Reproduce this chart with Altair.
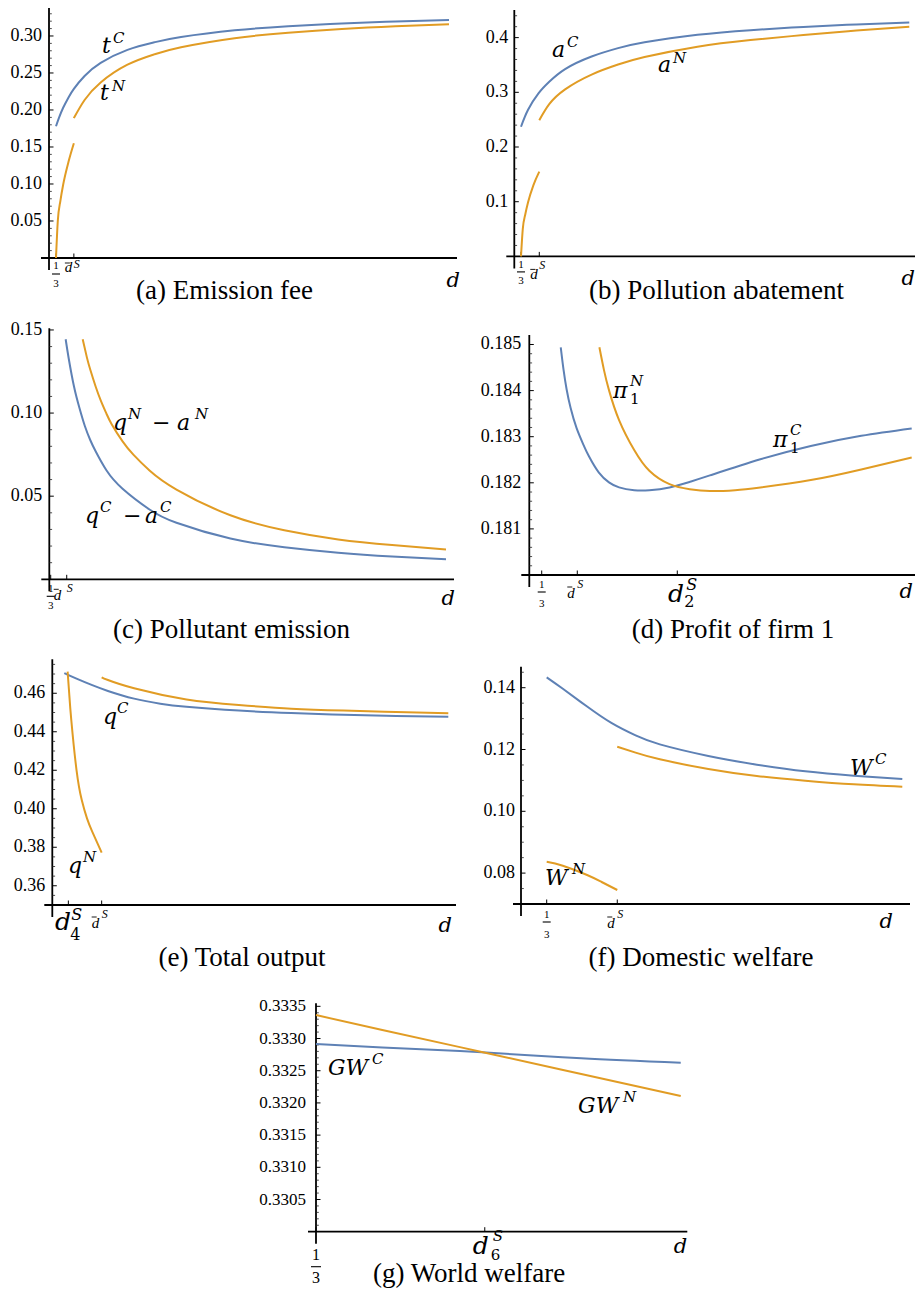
import altair as alt
import pandas as pd

# ======================= data =======================
THIRD = 1 / 3

# (a) Emission fee
a_tC_d = [THIRD, 0.36, 0.4, 0.45, 0.5, 0.6, 0.75, 1.0, 1.25, 1.5, 2.0, 2.5, 3.0, 3.5, 4.0]
a_tC_v = [0.178, 0.189, 0.203, 0.217, 0.2286, 0.2459, 0.2636, 0.2812, 0.2914, 0.2985, 0.3076, 0.3131, 0.3168, 0.3195, 0.3216]
a_tN_lo_d = [THIRD, 0.35, 0.375, 0.4, 0.45, 0.5]
a_tN_lo_v = [0.0, 0.05, 0.078, 0.099, 0.13, 0.155]
a_tN_hi_d = [0.5, 0.6, 0.75, 1.0, 1.25, 1.5, 2.0, 2.5, 3.0, 3.5, 4.0]
a_tN_hi_v = [0.189, 0.2135, 0.2372, 0.2612, 0.2752, 0.2848, 0.2970, 0.3044, 0.3095, 0.3132, 0.316]

# (b) Pollution abatement
b_aC_d = [THIRD, 0.4, 0.5, 0.6, 0.75, 1.0, 1.25, 1.5, 2.0, 2.5, 3.0, 3.5, 4.0]
b_aC_v = [0.237, 0.268, 0.2985, 0.3193, 0.3425, 0.3655, 0.3808, 0.3915, 0.4052, 0.4137, 0.4196, 0.4241, 0.4278]
b_aN_lo_d = [THIRD, 0.35, 0.375, 0.4, 0.45, 0.506]
b_aN_lo_v = [0.0, 0.05, 0.078, 0.099, 0.13, 0.155]
b_aN_hi_d = [0.506, 0.6, 0.75, 1.0, 1.25, 1.5, 2.0, 2.5, 3.0, 3.5, 4.0]
b_aN_hi_v = [0.249, 0.2785, 0.3055, 0.3325, 0.3508, 0.3645, 0.3835, 0.3955, 0.4047, 0.4128, 0.420]

# (c) Pollutant emission
c_C_d = [0.472, 0.5, 0.55, 0.6, 0.65, 0.7, 0.75, 0.85, 1.0, 1.25, 1.5, 2.0, 2.5, 3.0, 3.5, 4.0]
c_C_v = [0.1444, 0.1330, 0.1158, 0.1030, 0.0922, 0.0838, 0.0770, 0.0656, 0.0545, 0.0420, 0.0340,
         0.0245, 0.0193, 0.0160, 0.0137, 0.0120]
c_N_d = [0.63, 0.67, 0.7, 0.75, 0.8, 0.85, 0.9, 1.0, 1.1, 1.25, 1.5, 2.0, 2.5, 3.0, 3.5, 4.0]
c_N_v = [0.1444, 0.1332, 0.1262, 0.1160, 0.1072, 0.0997, 0.0932, 0.0830, 0.0750, 0.0655, 0.0540,
         0.0385, 0.0295, 0.0240, 0.0206, 0.0180]

# (d) Profit of firm 1
d_C_d = [0.522, 0.55, 0.58, 0.62, 0.68, 0.75, 0.8, 0.9, 1.0, 1.1, 1.25, 1.4, 1.6, 1.8, 2.0, 2.5, 3.0, 3.5, 4.0]
d_C_v = [0.18494, 0.18445, 0.18403, 0.18362, 0.18318, 0.18281, 0.18258, 0.18222, 0.18201, 0.18190,
         0.18184, 0.18184, 0.18190, 0.18202, 0.18216, 0.18251, 0.18280, 0.18302, 0.18318]
d_N_d = [0.905, 0.95, 1.0, 1.1, 1.25, 1.4, 1.6, 1.8, 2.0, 2.25, 2.5, 3.0, 3.5, 4.0]
d_N_v = [0.18494, 0.18445, 0.18401, 0.18336, 0.18271, 0.18226, 0.18197, 0.18186, 0.18182, 0.18184,
         0.18190, 0.18206, 0.18229, 0.18255]

# (e) Total output
e_C_d = [THIRD, 0.45, 0.6, 0.75, 1.0, 1.25, 1.5, 2.0, 2.5, 3.0, 3.5, 4.0]
e_C_v = [0.4705, 0.4676, 0.4642, 0.4612, 0.4572, 0.4546, 0.4530, 0.4510, 0.4497, 0.4488, 0.4482, 0.4478]
e_N_lo_d = [0.365, 0.38, 0.4, 0.45, 0.5, 0.55, 0.6, 0.69]
e_N_lo_v = [0.4712, 0.4600, 0.4461, 0.4201, 0.4045, 0.3950, 0.3881, 0.3772]
e_N_hi_d = [0.69, 0.75, 1.0, 1.5, 2.0, 2.5, 3.0, 3.5, 4.0]
e_N_hi_v = [0.4683, 0.4669, 0.4626, 0.4568, 0.4539, 0.4520, 0.4510, 0.4503, 0.4496]

# (f) Domestic welfare
f_C_d = [THIRD, 0.5, 0.75, 1.0, 1.25, 1.5, 2.0, 2.5, 3.0, 3.5, 4.0]
f_C_v = [0.14335, 0.13965, 0.13390, 0.12860, 0.12455, 0.12165, 0.11790, 0.11509, 0.11293, 0.11153, 0.11045]
f_N_lo_d = [THIRD, 0.5, 0.75, 0.9, 1.061]
f_N_lo_v = [0.0837, 0.0824, 0.07939, 0.07712, 0.07453]
f_N_hi_d = [1.061, 1.25, 1.5, 2.0, 2.5, 3.0, 3.5, 4.0]
f_N_hi_v = [0.12092, 0.11898, 0.11682, 0.11369, 0.11142, 0.10991, 0.10873, 0.10797]

# (g) World welfare
g_C_d = [THIRD, 1.0, 2.0, 3.0, 4.0]
g_C_v = [0.332914, 0.332862, 0.332786, 0.332692, 0.332624]
g_N_d = [THIRD, 1.0, 2.0, 3.0, 4.0]
g_N_v = [0.333364, 0.333131, 0.332792, 0.332448, 0.332107]

# y tick values and labels
a_yt = [0.05, 0.10, 0.15, 0.20, 0.25, 0.30]
a_yl = ["0.05", "0.10", "0.15", "0.20", "0.25", "0.30"]
b_yt = [0.1, 0.2, 0.3, 0.4]
b_yl = ["0.1", "0.2", "0.3", "0.4"]
c_yt = [0.05, 0.10, 0.15]
c_yl = ["0.05", "0.10", "0.15"]
d_yt = [0.181, 0.182, 0.183, 0.184, 0.185]
d_yl = ["0.181", "0.182", "0.183", "0.184", "0.185"]
e_yt = [0.36, 0.38, 0.40, 0.42, 0.44, 0.46]
e_yl = ["0.36", "0.38", "0.40", "0.42", "0.44", "0.46"]
f_yt = [0.08, 0.10, 0.12, 0.14]
f_yl = ["0.08", "0.10", "0.12", "0.14"]
g_yt = [0.3305, 0.3310, 0.3315, 0.3320, 0.3325, 0.3330, 0.3335]
g_yl = ["0.3305", "0.3310", "0.3315", "0.3320", "0.3325", "0.3330", "0.3335"]

# x tick positions (d)
a_dbar, b_dbar, c_dbar, d_dbar, e_dbar, f_dbar = 0.5, 0.506, 0.482, 0.686, 0.69, 1.061
d_d2, e_d4, g_d6 = 1.677, 0.372, 2.03

captions = ["(a) Emission fee", "(b) Pollution abatement", "(c) Pollutant emission",
            "(d) Profit of firm 1", "(e) Total output", "(f) Domestic welfare", "(g) World welfare"]

# ======================= layout / style =======================
SERIF = "Liberation Serif, Times New Roman, Tinos, serif"
MATH = "DejaVu Serif"
BLUE = "#5E81B5"
ORANGE = "#E19C24"

PA = dict(xd=[0.268, 4.0746], xr=[41, 449], yd=[0.0, 0.3378], yr=[250, 0])
PB = dict(xd=[0.2701, 4.07], xr=[506.3, 908.7], yd=[0.0, 0.4505], yr=[248.4, 2])
PC = dict(xd=[0.3203, 4.0742], xr=[41.3, 446], yd=[0.0, 0.151], yr=[571.3, 320.3])
PD = dict(xd=[0.2104, 4.0624], xr=[521.3, 910], yd=[0.18, 0.185206], yr=[567, 327])
PE = dict(xd=[0.2187, 4.0735], xr=[44.3, 448], yd=[0.35, 0.47764], yr=[897, 651.3])
PF = dict(xd=[0.0684, 4.0794], xr=[513, 902], yd=[0.07, 0.1468], yr=[896, 658.7])
PG = dict(xd=[THIRD, 4.066], xr=[308, 679.3], yd=[0.33, 0.333547], yr=[1223.7, 995.3])

layers = []


def xs(P, f="d"):
    return alt.X(f"{f}:Q", scale=alt.Scale(domain=P["xd"], range=P["xr"], nice=False, zero=False), axis=None)


def ys(P, f="v"):
    return alt.Y(f"{f}:Q", scale=alt.Scale(domain=P["yd"], range=P["yr"], nice=False, zero=False), axis=None)


def curve(P, ds, vs, color, interp="natural"):
    df = pd.DataFrame({"d": ds, "v": vs})
    layers.append(alt.Chart(df).mark_line(color=color, strokeWidth=2, interpolate=interp)
                  .encode(x=xs(P), y=ys(P)))


def text(P, d, v, s, size, dx=0, dy=0, font=SERIF, italic=False, align="left", baseline="alphabetic"):
    df = pd.DataFrame({"d": [d], "v": [v], "t": [s]})
    kw = dict(font=font, fontSize=size, dx=dx, dy=dy, align=align, baseline=baseline, color="black")
    if italic:
        kw["fontStyle"] = "italic"
    layers.append(alt.Chart(df).mark_text(**kw).encode(x=xs(P), y=ys(P), text="t:N"))


def hbar(P, d, v, x0off, x1off, yoff, width=1.0):
    df = pd.DataFrame({"d": [d], "d2": [d], "v": [v]})
    layers.append(alt.Chart(df).mark_rule(color="black", strokeWidth=width, xOffset=x0off,
                                          x2Offset=x1off, yOffset=yoff)
                  .encode(x=xs(P), x2="d2:Q", y=ys(P)))


def axes(P, yt, yl, minor, xt, lab_dx=-7, lab_size=18):
    d0, d1 = P["xd"]
    v0, v1 = P["yd"]
    df = pd.DataFrame({"d": [d0], "d2": [d1], "v": [v0]})
    layers.append(alt.Chart(df).mark_rule(color="black", strokeWidth=1.8, xOffset=-8)
                  .encode(x=xs(P), x2="d2:Q", y=ys(P)))
    df = pd.DataFrame({"d": [d0], "v": [v0], "v2": [v1]})
    layers.append(alt.Chart(df).mark_rule(color="black", strokeWidth=1.8, yOffset=12)
                  .encode(x=xs(P), y=ys(P), y2="v2:Q"))
    df = pd.DataFrame({"d": [d0] * len(yt), "d2": [d0] * len(yt), "v": yt, "t": yl})
    layers.append(alt.Chart(df).mark_rule(color="black", strokeWidth=1, x2Offset=4.5)
                  .encode(x=xs(P), x2="d2:Q", y=ys(P)))
    layers.append(alt.Chart(df).mark_text(font=SERIF, fontSize=lab_size, align="right",
                                          baseline="middle", dx=lab_dx, color="black")
                  .encode(x=xs(P), y=ys(P), text="t:N"))
    start, stop, step = minor
    mv = []
    k = 0
    while start + k * step <= stop + 1e-12:
        val = round(start + k * step, 7)
        if all(abs(val - t) > step / 4 for t in yt):
            mv.append(val)
        k += 1
    df = pd.DataFrame({"d": [d0] * len(mv), "d2": [d0] * len(mv), "v": mv})
    layers.append(alt.Chart(df).mark_rule(color="#222", strokeWidth=0.8, x2Offset=2.8)
                  .encode(x=xs(P), x2="d2:Q", y=ys(P)))
    df = pd.DataFrame({"d": xt, "v": [v0] * len(xt), "v2": [v0] * len(xt)})
    layers.append(alt.Chart(df).mark_rule(color="black", strokeWidth=1, y2Offset=-4.5)
                  .encode(x=xs(P), y=ys(P), y2="v2:Q"))


def third(P, size, dy1, dybar, dy3, half):
    v0 = P["yd"][0]
    text(P, THIRD, v0, "1", size, dy=dy1, align="center")
    hbar(P, THIRD, v0, -half, half, dybar, width=1.1)
    text(P, THIRD, v0, "3", size, dy=dy3, align="center")


def dbar(P, d, dxd, dyd, dybar, dxs, dys, size=15):
    v0 = P["yd"][0]
    text(P, d, v0, "d", size, dx=dxd, dy=dyd, italic=True)
    hbar(P, d, v0, dxd, dxd + 5, dybar, width=0.9)
    text(P, d, v0, "S", 12, dx=dxs, dy=dys, italic=True)


def dsub(P, d, sub, dxd, dyd, dxs, dys, dxb, dyb, size=25, small=16):
    v0 = P["yd"][0]
    text(P, d, v0, "d", size, dx=dxd, dy=dyd, font=MATH, italic=True)
    text(P, d, v0, "S", small, dx=dxs, dy=dys, font=MATH, italic=True)
    text(P, d, v0, sub, small, dx=dxb, dy=dyb, font=MATH)


def dlabel(P, dx, dy):
    text(P, P["xd"][1], P["yd"][0], "d", 21, dx=dx, dy=dy, font=MATH, italic=True, align="right")


def caption(P, d, dy, s):
    text(P, d, P["yd"][0], s, 27, dy=dy, align="center")


def mlabel(P, d, v, pieces):
    for s, dx, dy, size, italic in pieces:
        text(P, d, v, s, size, dx=dx, dy=dy, font=MATH, italic=italic)


B, SM = 22, 15

# ---------- (a) ----------
axes(PA, a_yt, a_yl, (0.01, 0.33, 0.01), [THIRD, a_dbar])
curve(PA, a_tC_d, a_tC_v, BLUE)
curve(PA, a_tN_lo_d, a_tN_lo_v, ORANGE, "monotone")
curve(PA, a_tN_hi_d, a_tN_hi_v, ORANGE)
third(PA, 11, 11, 16, 29, 4)
dbar(PA, a_dbar, -9, 14, 5, 0, 10)
dlabel(PA, 3, 29)
caption(PA, 1.906, 41, captions[0])
mlabel(PA, 0.762, 0.277, [("t", 0, 0, B, True), ("C", 11, -10, SM, True)])
mlabel(PA, 0.744, 0.2135, [("t", 0, 0, B, True), ("N", 12, -9, SM, True)])

# ---------- (b) ----------
axes(PB, b_yt, b_yl, (0.02, 0.44, 0.02), [THIRD, b_dbar], lab_dx=-6)
curve(PB, b_aC_d, b_aC_v, BLUE)
curve(PB, b_aN_lo_d, b_aN_lo_v, ORANGE, "monotone")
curve(PB, b_aN_hi_d, b_aN_hi_v, ORANGE)
third(PB, 11, 12, 15.5, 28, 4)
dbar(PB, b_dbar, -9, 23, 13, 0, 13)
dlabel(PB, -1.7, 28.6)
caption(PB, 2.179, 42.6, captions[1])
mlabel(PB, 0.626, 0.3645, [("a", 0, 0, B, True), ("C", 15, -10, SM, True)])
mlabel(PB, 1.627, 0.337, [("a", 0, 0, B, True), ("N", 15, -9, SM, True)])

# ---------- (c) ----------
axes(PC, c_yt, c_yl, (0.01, 0.15, 0.01), [THIRD, c_dbar])
curve(PC, c_C_d, c_C_v, BLUE)
curve(PC, c_N_d, c_N_v, ORANGE)
third(PC, 11, 13, 17, 30, 4)
dbar(PC, c_dbar, -13, 21, 10, 0, 13)
dlabel(PC, 1, 25.7)
caption(PC, 2.01, 58.7, captions[2])
mlabel(PC, 0.911, 0.0898, [("q", 0, 0, B, True), ("N", 15, -11, SM, True), ("\u2212", 39, 0, B, False),
                           ("a", 64, 0, B, True), ("N", 82, -11, SM, True)])
mlabel(PC, 0.652, 0.0337, [("q", 0, 0, B, True), ("C", 15, -11, SM, True), ("\u2212", 38, 0, B, False),
                           ("a", 60, 0, B, True), ("C", 75, -11, SM, True)])

# ---------- (d) ----------
axes(PD, d_yt, d_yl, (0.1802, 0.185, 0.0002), [THIRD, d_dbar, d_d2], lab_dx=-8)
curve(PD, d_C_d, d_C_v, BLUE)
curve(PD, d_N_d, d_N_v, ORANGE)
third(PD, 11, 13, 17, 32, 4)
dbar(PD, d_dbar, -10, 23, 12, 0, 13)
dsub(PD, d_d2, "2", -9.3, 27, 9, 15, 7, 32)
dlabel(PD, -5, 23)
caption(PD, 2.229, 63, captions[3])
mlabel(PD, 1.04, 0.18384, [("\u03c0", 0, 0, B, True), ("N", 17, -12, SM, True), ("1", 17, 6, SM, False)])
mlabel(PD, 2.626, 0.182777, [("\u03c0", 0, 0, B, True), ("C", 17, -12, SM, True), ("1", 17, 6, SM, False)])

# ---------- (e) ----------
axes(PE, e_yt, e_yl, (0.355, 0.475, 0.005), [e_d4, e_dbar])
curve(PE, e_C_d, e_C_v, BLUE)
curve(PE, e_N_lo_d, e_N_lo_v, ORANGE)
curve(PE, e_N_hi_d, e_N_hi_v, ORANGE)
dsub(PE, e_d4, "4", -13.3, 25, 3, 15, 2, 35)
dbar(PE, e_dbar, -10, 23, 12, 0, 13)
dlabel(PE, -4, 27)
caption(PE, 2.03, 61, captions[4])
mlabel(PE, 0.703, 0.44403, [("q", 0, 0, B, True), ("C", 14, -11, SM, True)])
mlabel(PE, 0.369, 0.36662, [("q", 0, 0, B, True), ("N", 15, -11, SM, True)])

# ---------- (f) ----------
axes(PF, f_yt, f_yl, (0.075, 0.145, 0.005), [THIRD, f_dbar], lab_dx=-6)
curve(PF, f_C_d, f_C_v, BLUE)
curve(PF, f_N_lo_d, f_N_lo_v, ORANGE)
curve(PF, f_N_hi_d, f_N_hi_v, ORANGE)
third(PF, 11, 14, 18, 34, 4)
dbar(PF, f_dbar, -10, 24, 13, 0, 14)
dlabel(PF, -17, 24)
caption(PF, 1.924, 62, captions[5])
mlabel(PF, 3.46, 0.11175, [("W", 0, 0, B, True), ("C", 25, -11, SM, True)])
mlabel(PF, 0.316, 0.07615, [("W", 0, 0, B, True), ("N", 27, -11, SM, True)])

# ---------- (g) ----------
axes(PG, g_yt, g_yl, (0.3301, 0.3335, 0.0001), [THIRD, g_d6], lab_dx=-10, lab_size=17)
curve(PG, g_C_d, g_C_v, BLUE)
curve(PG, g_N_d, g_N_v, ORANGE)
third(PG, 16, 28, 35, 51, 5)
dsub(PG, g_d6, "6", -12, 22, 8, 9, 6, 28, small=15)
dlabel(PG, 0, 21.3)
caption(PG, 1.872, 50, captions[6])
mlabel(PG, 0.454, 0.332433, [("GW", 0, 0, B, True), ("C", 44, -11, SM, True)])
mlabel(PG, 2.968, 0.331843, [("GW", 0, 0, B, True), ("N", 45, -11, SM, True)])

chart = (alt.layer(*layers)
         .resolve_scale(x="independent", y="independent")
         .properties(width=907, height=1280, padding=0,
                     autosize=alt.AutoSizeParams(type="none"))
         .configure_view(stroke=None))

chart.save("out.html", embed_options={"renderer": "svg", "actions": False})
